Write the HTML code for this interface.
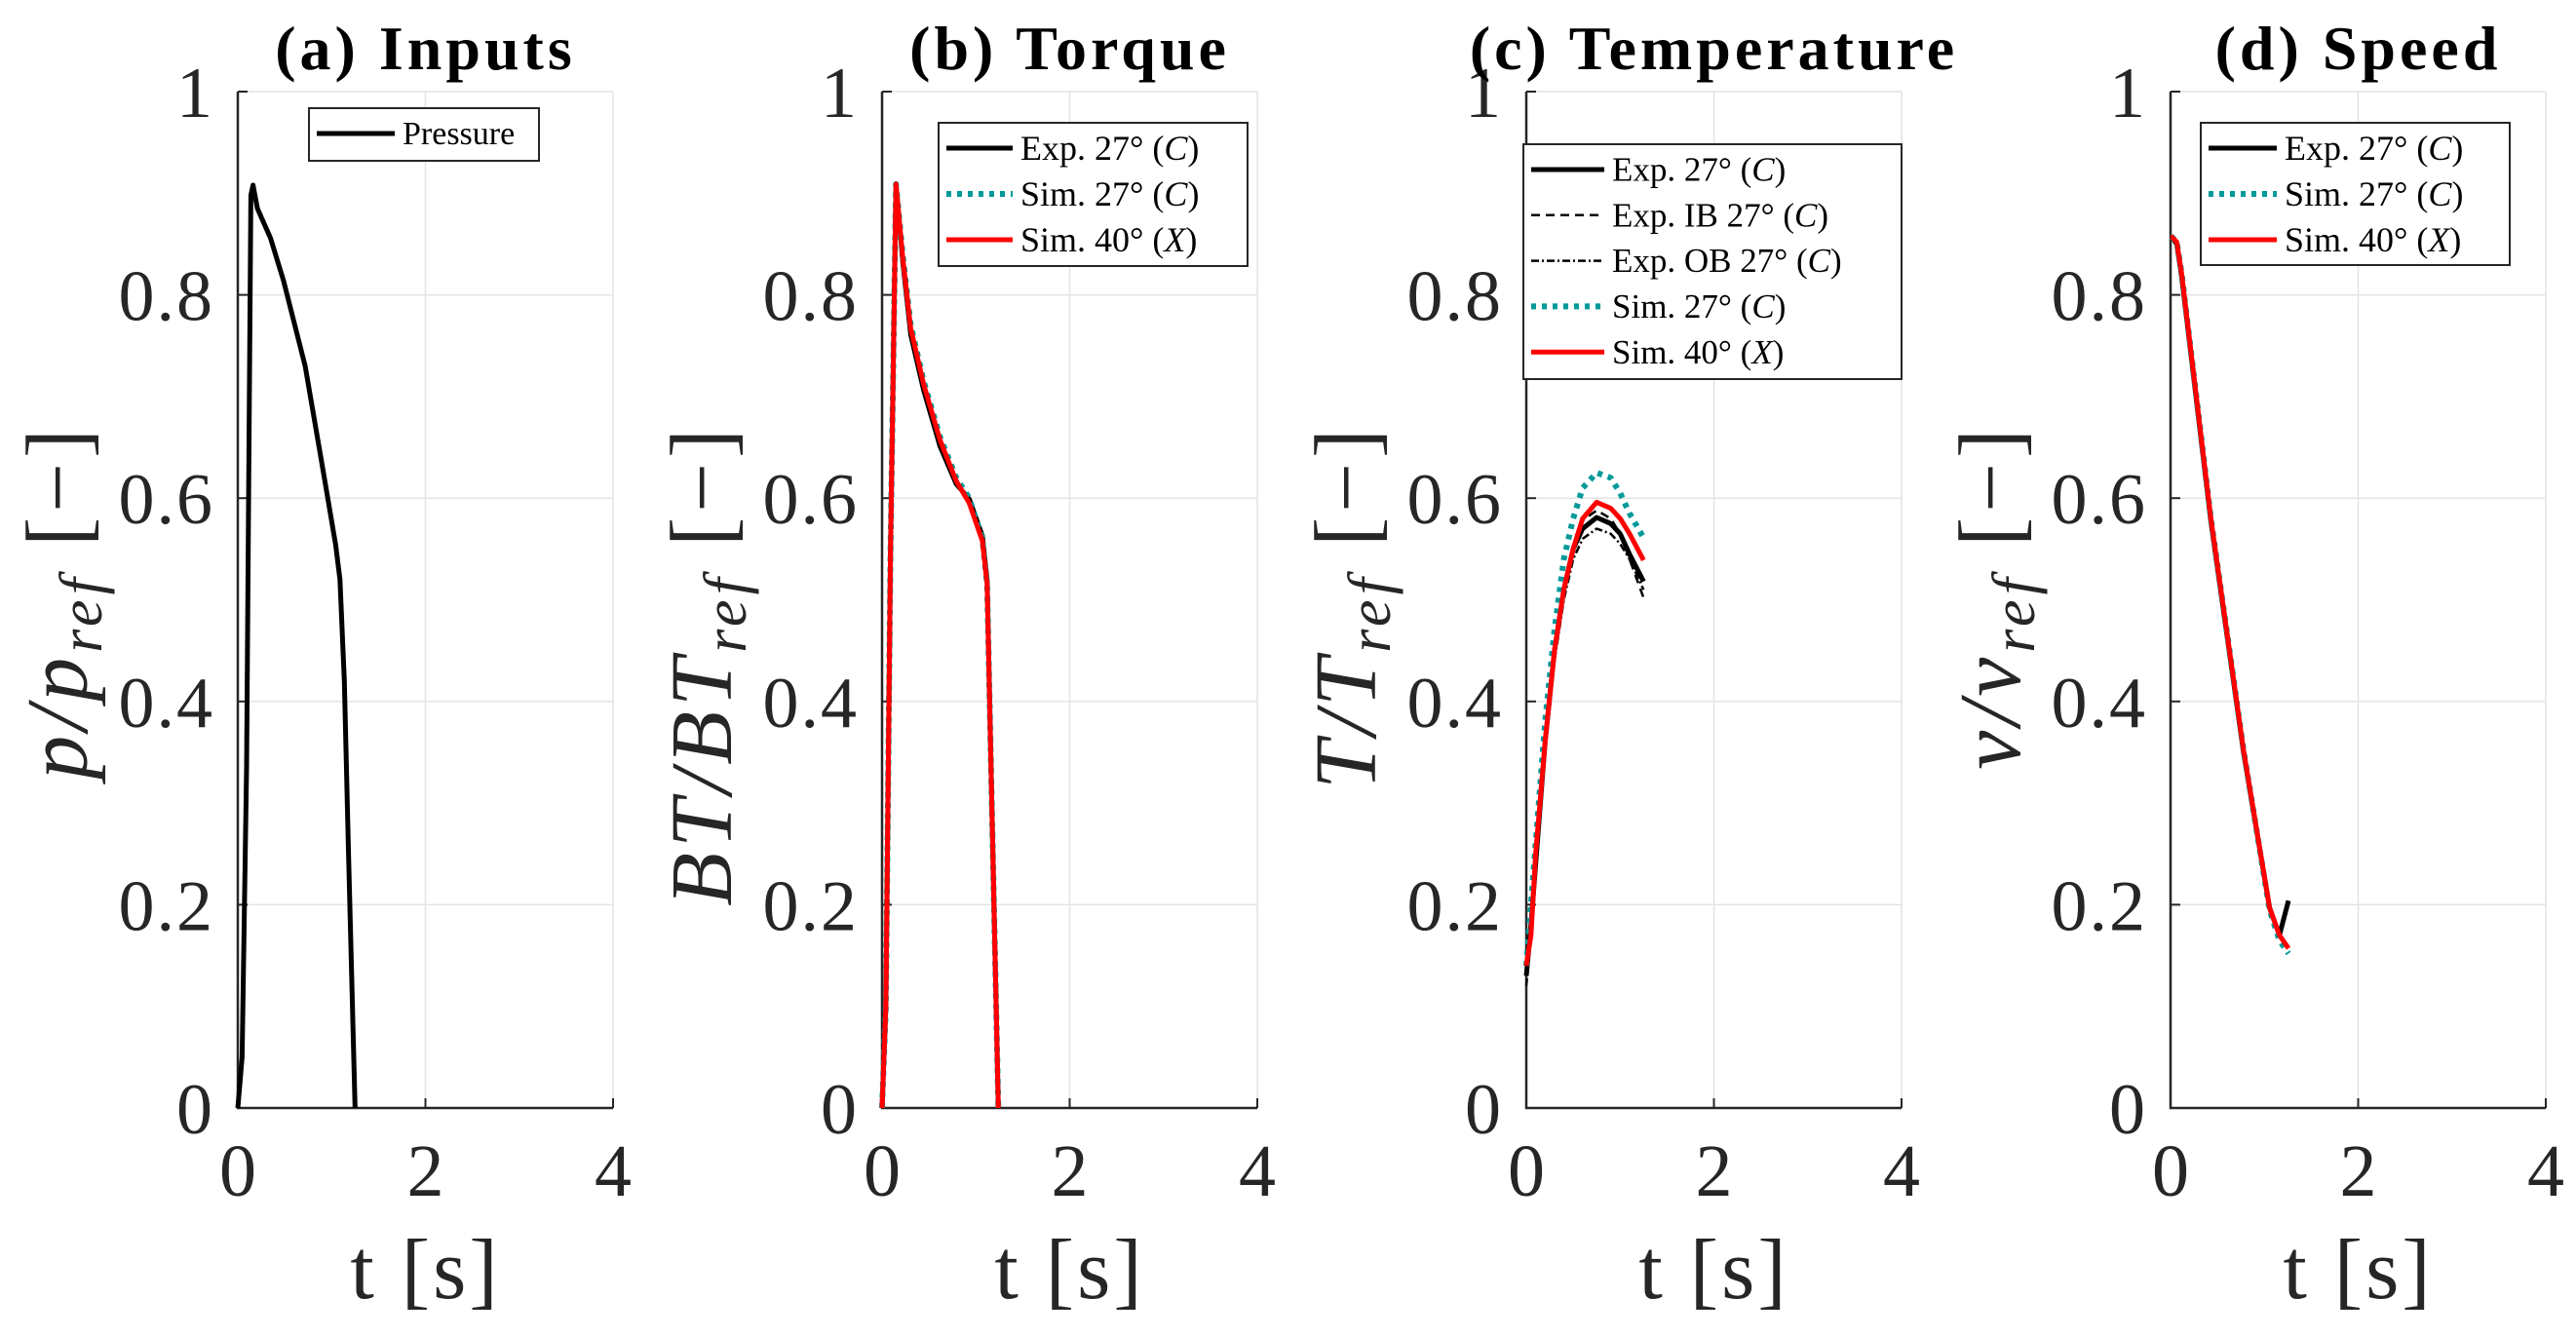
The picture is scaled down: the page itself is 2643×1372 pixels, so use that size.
<!DOCTYPE html>
<html><head><meta charset="utf-8"><style>
html,body{margin:0;padding:0;background:#fff;}
svg{display:block;font-family:"Liberation Serif",serif;}
</style></head><body>
<svg id="fig" width="2643" height="1372" viewBox="0 0 2643 1372" xmlns="http://www.w3.org/2000/svg"></svg>
<script>
// ---- data ----
const xTicks = [0, 2, 4];
const yTicks = [0, 0.2, 0.4, 0.6, 0.8, 1];
const yTickLabels = ["0", "0.2", "0.4", "0.6", "0.8", "1"];
const xTickLabels = ["0", "2", "4"];

const pressT = [0, 0.046, 0.093, 0.139, 0.162, 0.209, 0.348, 0.487, 0.718, 0.904, 1.043, 1.089, 1.136, 1.18, 1.25];
const pressV = [0, 0.05, 0.336, 0.898, 0.908, 0.885, 0.856, 0.814, 0.73, 0.63, 0.554, 0.52, 0.42, 0.25, 0];

const torqT = [0, 0.04, 0.09, 0.149, 0.219, 0.305, 0.444, 0.618, 0.791, 0.93, 1.069, 1.12, 1.17, 1.24];
const torqExp = [0, 0.1, 0.55, 0.909, 0.834, 0.761, 0.706, 0.651, 0.614, 0.599, 0.563, 0.519, 0.3, 0];
const torqSim27 = [0, 0.1, 0.55, 0.909, 0.84, 0.77, 0.715, 0.66, 0.62, 0.6, 0.56, 0.515, 0.3, 0];
const torqSim40 = [0, 0.1, 0.55, 0.909, 0.838, 0.767, 0.712, 0.657, 0.617, 0.595, 0.558, 0.515, 0.3, 0];

const tempT = [0, 0.05, 0.1, 0.2, 0.3, 0.4, 0.5, 0.6, 0.75, 0.9, 1.0, 1.1, 1.25];
const tempExp = [0.13, 0.18, 0.24, 0.36, 0.45, 0.51, 0.55, 0.57, 0.581, 0.575, 0.565, 0.545, 0.518];
const tempIB = [0.13, 0.18, 0.245, 0.365, 0.455, 0.515, 0.555, 0.578, 0.588, 0.58, 0.565, 0.54, 0.502];
const tempOB = [0.12, 0.17, 0.235, 0.355, 0.44, 0.5, 0.54, 0.56, 0.57, 0.565, 0.555, 0.54, 0.51];
const tempSim27 = [0.14, 0.2, 0.26, 0.38, 0.47, 0.54, 0.58, 0.61, 0.625, 0.62, 0.605, 0.585, 0.561];
const tempSim40 = [0.14, 0.17, 0.25, 0.36, 0.45, 0.51, 0.55, 0.58, 0.596, 0.59, 0.58, 0.565, 0.539];

const speedT = [0, 0.014, 0.066, 0.118, 0.43, 0.778, 1.056, 1.16, 1.257];
const speedExp = [0.857, 0.857, 0.85, 0.818, 0.577, 0.35, 0.197, 0.17, 0.204];
const speedSim27 = [0.857, 0.857, 0.852, 0.821, 0.58, 0.352, 0.195, 0.165, 0.152];
const speedSim40 = [0.857, 0.857, 0.852, 0.821, 0.58, 0.352, 0.197, 0.17, 0.157];

// ---- drawing ----
const NS = "http://www.w3.org/2000/svg";
const svg = document.getElementById("fig");
function mk(tag, attrs, parent) {
  const e = document.createElementNS(NS, tag);
  for (const k in attrs) e.setAttribute(k, attrs[k]);
  (parent || svg).appendChild(e);
  return e;
}
const TOP = 94, BOT = 1137, W = 385;
const styles = {
  black: {stroke: "#000", "stroke-width": 5},
  teal: {stroke: "#009999", "stroke-width": 6, "stroke-dasharray": "5 6"},
  red: {stroke: "#ff0000", "stroke-width": 5},
  dash: {stroke: "#000", "stroke-width": 2.5, "stroke-dasharray": "9 6"},
  dashdot: {stroke: "#000", "stroke-width": 2.5, "stroke-dasharray": "8 3 2 3"}
};
function panel(key, left, title, ylab, series, legend) {
  const g = mk("g", {});
  
  
  const sx = t => left + t / 4 * W;
  const sy = v => BOT - v * (BOT - TOP);
  yTicks.forEach((v, i) => {
    const l = mk("line", {x1: left, x2: left + W, y1: sy(v), y2: sy(v), stroke: "#e3e3e3", "stroke-width": 1.5}, g);
    
    
    mk("line", {x1: left, x2: left + 10, y1: sy(v), y2: sy(v), stroke: "#262626", "stroke-width": 2}, g);
    const tx = mk("text", {x: left - 24, y: sy(v) + 26, "text-anchor": "end", "font-size": 74, fill: "#262626", "letter-spacing": 2}, g);
    tx.textContent = yTickLabels[i];
    
    
  });
  xTicks.forEach((t, i) => {
    const l = mk("line", {x1: sx(t), x2: sx(t), y1: TOP, y2: BOT, stroke: "#e3e3e3", "stroke-width": 1.5}, g);
    
    
    mk("line", {x1: sx(t), x2: sx(t), y1: BOT, y2: BOT - 10, stroke: "#262626", "stroke-width": 2}, g);
    const tx = mk("text", {x: sx(t), y: 1227, "text-anchor": "middle", "font-size": 76, fill: "#262626"}, g);
    tx.textContent = xTickLabels[i];
    
    
  });
  const ax = mk("path", {d: `M${left} ${TOP}V${BOT}H${left + W}`, fill: "none", stroke: "#262626", "stroke-width": 2.5}, g);
  
  
  series.forEach(s => {
    const d = s.t.map((t, i) => (i ? "L" : "M") + sx(t).toFixed(1) + " " + sy(s.v[i]).toFixed(1)).join("");
    const p = mk("path", Object.assign({d: d, fill: "none", "stroke-linejoin": "round"}, styles[s.st]), g);
    
    
  });
  const ti = mk("text", {x: left + W / 2, y: 71, "text-anchor": "middle", "font-size": 64, "font-weight": "bold", fill: "#000", "letter-spacing": 4}, g);
  ti.textContent = title;
  
  
  const xl = mk("text", {x: left + W / 2, y: 1332, "text-anchor": "middle", "font-size": 88, fill: "#262626", "letter-spacing": 3}, g);
  xl.textContent = "t [s]";
  
  
  const yl = mk("text", {x: 0, y: 0, "text-anchor": "end", "font-size": 90, fill: "#262626", "letter-spacing": 5, transform: `translate(${left - 155},435) rotate(-90)`}, g);
  yl.innerHTML = `<tspan font-style="italic">${ylab[0]}</tspan><tspan font-style="italic" font-size="62" dy="15">ref</tspan><tspan dy="-15">  [−]</tspan>`;
  
  
  const lg = mk("g", {}, g);
  
  
  mk("rect", {x: legend.x, y: legend.y, width: legend.w, height: legend.h, fill: "#fff", stroke: "#262626", "stroke-width": 2}, lg);
  legend.items.forEach((it, i) => {
    const yy = legend.y0 + i * legend.dy;
    const en = mk("g", {}, lg);
    
    
    mk("line", Object.assign({x1: legend.x + 8, x2: legend.x + 8 + legend.lw, y1: yy, y2: yy}, styles[it.st]), en);
    const tx = mk("text", {x: legend.x + 16 + legend.lw, y: yy + legend.fs * 0.33, "font-size": legend.fs, fill: "#000"}, en);
    tx.innerHTML = it.html;
  });
}
const C = '(<tspan font-style="italic">C</tspan>)', X = '(<tspan font-style="italic">X</tspan>)';
panel("a", 244, "(a)  Inputs", ["p/p"], [{t: pressT, v: pressV, st: "black", name: "pressure-line"}],
  {x: 317, y: 111, w: 236, h: 54, y0: 137, dy: 0, lw: 80, fs: 34, items: [{st: "black", html: "Pressure"}]});
panel("b", 905, "(b)  Torque", ["BT/BT"], [
  {t: torqT, v: torqExp, st: "black", name: "exp-27-line"},
  {t: torqT, v: torqSim27, st: "teal", name: "sim-27-line"},
  {t: torqT, v: torqSim40, st: "red", name: "sim-40-line"}],
  {x: 963, y: 126, w: 317, h: 147, y0: 152, dy: 47, lw: 68, fs: 36,
   items: [{st: "black", html: "Exp.  27° " + C}, {st: "teal", html: "Sim.  27° " + C}, {st: "red", html: "Sim.  40° " + X}]});
panel("c", 1566, "(c)  Temperature", ["T/T"], [
  {t: tempT, v: tempOB, st: "dashdot", name: "exp-ob-27-line"},
  {t: tempT, v: tempIB, st: "dash", name: "exp-ib-27-line"},
  {t: tempT, v: tempExp, st: "black", name: "exp-27-line"},
  {t: tempT, v: tempSim27, st: "teal", name: "sim-27-line"},
  {t: tempT, v: tempSim40, st: "red", name: "sim-40-line"}],
  {x: 1563, y: 148, w: 388, h: 241, y0: 174, dy: 46.8, lw: 75, fs: 35,
   items: [{st: "black", html: "Exp.  27° " + C}, {st: "dash", html: "Exp.  IB 27° " + C}, {st: "dashdot", html: "Exp.  OB 27° " + C},
           {st: "teal", html: "Sim.  27° " + C}, {st: "red", html: "Sim.  40° " + X}]});
panel("d", 2227, "(d)  Speed", ["v/v"], [
  {t: speedT, v: speedExp, st: "black", name: "exp-27-line"},
  {t: speedT, v: speedSim27, st: "teal", name: "sim-27-line"},
  {t: speedT, v: speedSim40, st: "red", name: "sim-40-line"}],
  {x: 2258, y: 126, w: 317, h: 146, y0: 152, dy: 47, lw: 70, fs: 36,
   items: [{st: "black", html: "Exp.  27° " + C}, {st: "teal", html: "Sim.  27° " + C}, {st: "red", html: "Sim.  40° " + X}]});
</script>
</body></html>
